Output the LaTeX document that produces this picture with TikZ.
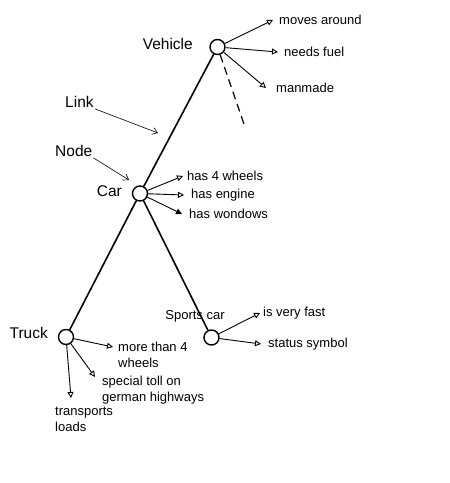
\documentclass[tikz,border=0pt]{standalone}
\usepackage{fontspec}
\setmainfont{Liberation Sans}
\usetikzlibrary{arrows.meta}
\begin{document}
\begin{tikzpicture}[x=1pt,y=-1pt,
  conc/.style={circle,draw,line width=1.4pt,minimum size=15pt,inner sep=0pt},
  big/.style={font=\fontsize{15.5}{17}\selectfont,inner sep=1pt},
  small/.style={font=\fontsize{13}{16}\selectfont,inner ysep=1pt,inner xsep=6pt,anchor=west,align=left},
  link/.style={line width=1.6pt},
  prop/.style={line width=0.9pt,-{Triangle[open,length=6pt,width=6pt]}},
  pointer/.style={line width=0.6pt,-{Straight Barb[length=5pt,width=7pt]}}]
\useasboundingbox (0,0) rectangle (450,483);
% concept nodes
\node[conc] (vehicle) at (217.5,47) {};
\node[conc] (car) at (140,193.5) {};
\node[conc] (truck) at (66,337) {};
\node[conc] (sports) at (211.5,337.5) {};
% concept labels
\node[big,anchor=east] (vehiclet) at (194,43.5) {Vehicle};
\node[big,anchor=east] (cart) at (123,191) {Car};
\node[big,anchor=east] (truckt) at (49,333) {Truck};
\node[small,anchor=center,inner xsep=1pt] (sportst) at (195,316) {Sports car};
\node[big,anchor=west] (linkt) at (64,102) {Link};
\node[big,anchor=west] (nodet) at (54,151) {Node};
% links
\draw[link] (vehicle) -- (car);
\draw[link] (car) -- (truck);
\draw[link] (car) -- (sports);
\coordinate (dashend) at (245,127);
\draw[line width=1.2pt,dash pattern=on 8pt off 5pt] (vehicle) -- (dashend);
% pointers
\coordinate (linkpt) at (158,133);
\coordinate (nodept) at (129,180);
\draw[pointer] (linkt.south east) -- (linkpt);
\draw[pointer] (nodet.south east) -- (nodept);
% vehicle properties
\node[small] (moves) at (273,20) {moves around};
\node[small] (fuel) at (278,52) {needs fuel};
\node[small,inner xsep=10pt] (manmade) at (266,88) {manmade};
\draw[prop] (vehicle) -- (moves.west);
\draw[prop] (vehicle) -- (fuel.west);
\draw[prop] (vehicle) -- (manmade.west);
% car properties
\node[small,inner xsep=4pt] (wheels) at (183,176) {has 4 wheels};
\node[small,inner xsep=7pt] (engine) at (184,195) {has engine};
\node[small,inner xsep=7pt] (windows) at (182,214) {has wondows};
\draw[prop] (car) -- (wheels.west);
\draw[prop] (car) -- (engine.west);
\draw[line width=0.9pt,-{Triangle[length=6pt,width=6pt]}] (car) -- (windows.west);
% truck properties
\node[small,anchor=north west,inner xsep=5pt,inner ysep=2pt] (more) at (113,340) {more than 4\\wheels};
\node[small,anchor=north west,inner xsep=7pt,inner ysep=2pt] (toll) at (95,374) {special toll on\\german highways};
\node[small,anchor=north west,inner xsep=2pt,inner ysep=2pt] (loads) at (53,405) {transports\\loads};
\draw[prop] (truck) -- ([yshift=-7pt]more.north west);
\draw[prop] (truck) -- ([yshift=-3pt]toll.north west);
\draw[prop] (truck) -- ([xshift=18pt,yshift=7pt]loads.north west);
% sports car properties
\node[small,inner xsep=3pt] (fast) at (260,313) {is very fast};
\node[small,inner xsep=7pt] (status) at (261,344) {status symbol};
\draw[prop] (sports) -- (fast.west);
\draw[prop] (sports) -- (status.west);
\end{tikzpicture}
\end{document}
